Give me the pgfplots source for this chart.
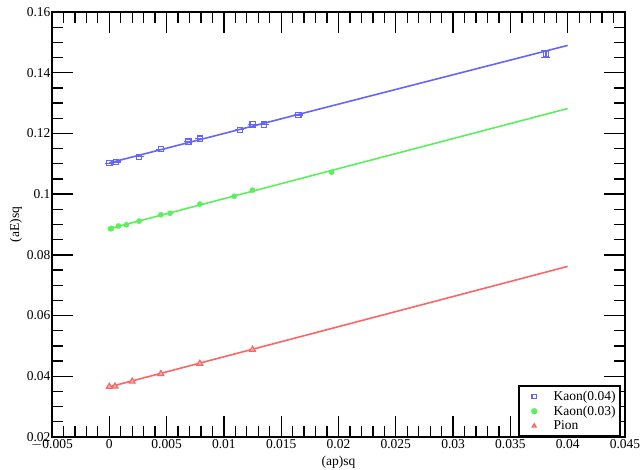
\documentclass[border=0pt]{standalone}
\usepackage{pgfplots}
\pgfplotsset{compat=1.18}
\usepackage{fontspec}
\setmainfont{Liberation Serif}
\definecolor{cb}{RGB}{100,100,255}
\definecolor{cg}{RGB}{90,240,90}
\definecolor{cr}{RGB}{255,100,100}
\begin{document}
\begin{tikzpicture}
\begin{axis}[
  at={(0,0)}, anchor=south west,
  scale only axis, width=573pt, height=425pt,
  xmin=-0.005, xmax=0.045, ymin=0.02, ymax=0.16,
  xtick={-0.005,0,0.005,0.01,0.015,0.02,0.025,0.03,0.035,0.04,0.045},
  xticklabels={$-$0.005,0,0.005,0.01,0.015,0.02,0.025,0.03,0.035,0.04,0.045},
  ytick={0.02,0.04,0.06,0.08,0.1,0.12,0.14,0.16},
  yticklabels={0.02,0.04,0.06,0.08,0.1,0.12,0.14,0.16},
  minor x tick num=4, minor y tick num=3,
  tick align=inside, xtick pos=both, ytick pos=both,
  major tick length=21pt, minor tick length=11pt,
  every tick/.style={black, line width=1.3pt},
  axis line style={line width=1.8pt},
  tick label style={font=\fontsize{13.5}{15}\selectfont},
  xticklabel style={yshift=1pt},
  yticklabel style={xshift=2pt},
  label style={font=\fontsize{13.5}{15}\selectfont},
  xlabel={(ap)sq}, ylabel={(aE)sq},
  xlabel style={yshift=0pt},
  ylabel style={yshift=-2pt},
  scaled ticks=false,
  legend style={at={(rel axis cs:0.993,0)}, anchor=south east, draw=black, line width=1.8pt,
    font=\fontsize{13.5}{15}\selectfont, row sep=1pt, inner xsep=3pt, inner ysep=3.5pt,
    nodes={inner sep=1.5pt}},
  legend cell align=left,
  legend image code/.code={%
    \path[draw=none,fill=none] (-12pt,-4pt) rectangle (18pt,4pt);
    \draw[mark size=2.2pt] plot coordinates {(0pt,0pt)};},
  clip=false,
]
% fit lines
\addplot[cb, line width=1.6pt, forget plot] coordinates {(0,0.1103) (0.04,0.1490)};
\addplot[cg, line width=1.6pt, forget plot] coordinates {(0,0.0886) (0.04,0.1282)};
\addplot[cr, line width=1.6pt, forget plot] coordinates {(0,0.0365) (0.04,0.0762)};
% Kaon(0.04)
\addplot[only marks, cb, mark=square, mark size=2.6pt, mark options={line width=1.3pt},
  error bars/.cd, y dir=both, y explicit, error bar style={line width=1.3pt}, error mark options={rotate=90, mark size=4.5pt, line width=1.3pt}]
  coordinates {
  (0.0000,0.1102) +- (0,0)
  (0.0006,0.1106) +- (0,0)
  (0.0026,0.1123) +- (0,0)
  (0.0045,0.1148) +- (0,0)
  (0.0069,0.1173) +- (0,0)
  (0.0079,0.1183) +- (0,0)
  (0.0114,0.1212) +- (0,0)
  (0.0125,0.1230) +- (0,0)
  (0.0135,0.1229) +- (0,0)
  (0.0165,0.1261) +- (0,0)
  (0.0381,0.1461) +- (0,0.0012)
  };
\addlegendentry{Kaon(0.04)}
% Kaon(0.03)
\addplot[only marks, cg, mark=*, mark size=2.6pt] coordinates {
  (0.0001,0.0886) (0.0002,0.0887) (0.0008,0.0895) (0.0015,0.0899) (0.0026,0.0911)
  (0.0045,0.0932) (0.0053,0.0937) (0.0079,0.0967) (0.0109,0.0993) (0.0125,0.1013)
  (0.0194,0.1072)
  };
\addlegendentry{Kaon(0.03)}
% Pion
\addplot[only marks, cr, mark=triangle*, mark size=3.3pt, mark options={fill=cr!45, line width=1.2pt}] coordinates {
  (0.0000,0.0366) (0.0005,0.0367) (0.0020,0.0383) (0.0045,0.0408) (0.0079,0.0442) (0.0125,0.0488)
  };
\addlegendentry{Pion}
\end{axis}
\pgfresetboundingbox
\path (-52pt,-32pt) rectangle (590pt,437pt);
\end{tikzpicture}
\end{document}
